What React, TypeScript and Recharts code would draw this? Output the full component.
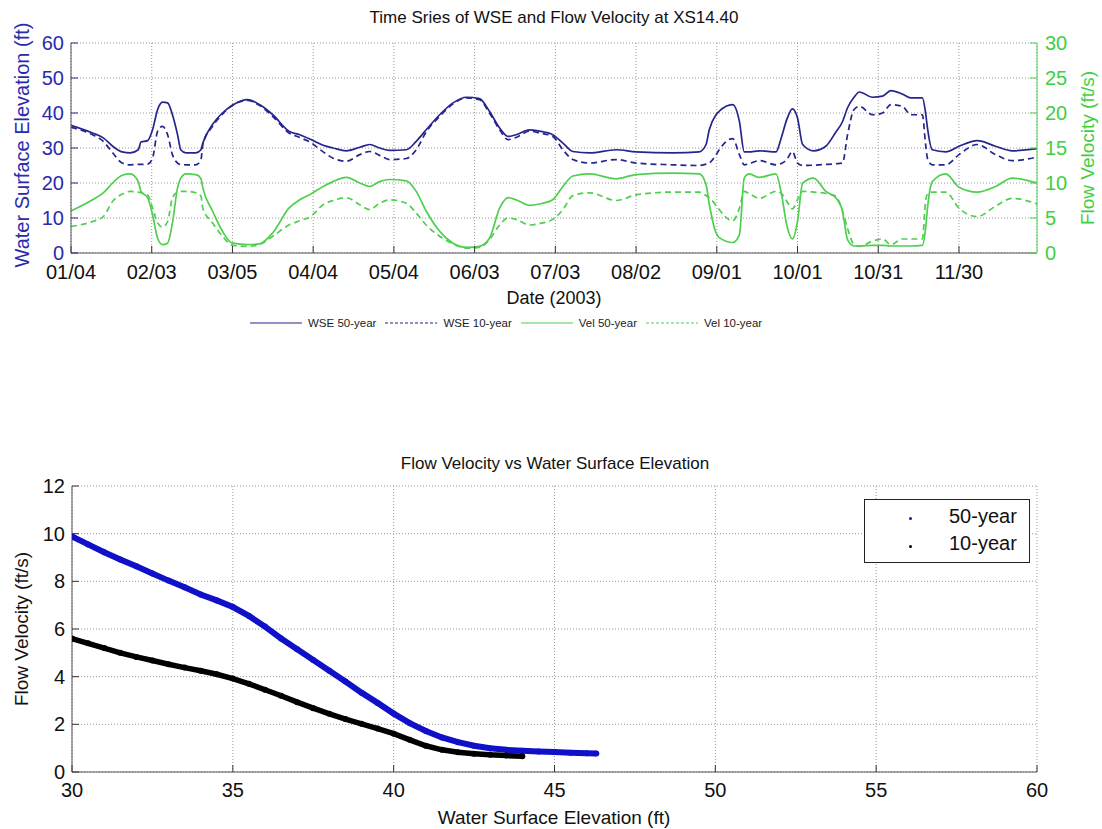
import React from 'react';
import { LineChart, Line, XAxis, YAxis, CartesianGrid, ScatterChart, Scatter } from 'recharts';

// top chart: day of year 2003 and the four series
const days = [4, 12, 16, 19.5, 23, 26, 29, 30, 32.5, 34.3, 36.2, 38, 39.9, 41.7, 43.6, 44.8, 46.7, 50.4, 52.3, 53, 56.6, 60.3, 64, 69.6, 74, 79, 85, 89, 93, 97.7, 101.4, 106.3, 111.3, 115, 118.7, 122.4, 128.6, 132.3, 136, 141, 146, 151, 155.8, 159.5, 163.3, 166.4, 169.4, 174.4, 178.1, 183, 186.8, 190.5, 196.7, 206.6, 214, 227.6, 237.5, 240, 241.2, 243.7, 244.9, 249.9, 252.4, 254.2, 256, 259.8, 266, 268, 270, 272.1, 274, 275.9, 280, 284.5, 288.2, 290.7, 292.6, 295, 297, 301.9, 305.6, 308.7, 313, 316.1, 320.4, 321.6, 322.3, 324.1, 329.1, 334, 340.8, 347.6, 353.8, 363];
const wse50 = [36.5, 34.3, 32.9, 30.5, 28.9, 28.6, 29.5, 31.7, 32.1, 35.2, 41.0, 43.1, 42.9, 39.5, 33.8, 29.5, 28.6, 28.6, 29.5, 31.4, 36.7, 40.0, 42.2, 43.8, 42.4, 39.5, 34.8, 33.8, 32.5, 30.8, 30.0, 29.2, 30.2, 31.0, 30.0, 29.3, 29.5, 31.9, 35.2, 39.5, 42.9, 44.5, 44.1, 40.5, 35.7, 33.3, 33.8, 35.2, 34.8, 33.8, 31.4, 29.0, 28.6, 29.5, 28.9, 28.6, 28.9, 31.0, 35.2, 39.5, 40.5, 42.4, 37.6, 28.9, 28.9, 29.2, 28.9, 33.0, 38.1, 41.2, 38.6, 31.0, 29.2, 30.5, 34.5, 37.5, 41.5, 44.5, 46.0, 44.5, 44.8, 46.4, 45.4, 44.3, 44.3, 40.0, 35.7, 29.5, 28.9, 30.5, 32.1, 30.5, 29.2, 29.8];
const wse10 = [35.9, 33.8, 31.9, 28.6, 25.7, 25.2, 25.3, 25.3, 25.4, 27.1, 34.8, 36.2, 33.8, 28.1, 25.7, 25.3, 25.2, 25.2, 26.7, 31.0, 36.2, 39.7, 42.2, 43.6, 42.2, 39.0, 34.3, 33.0, 31.6, 28.9, 27.1, 26.2, 28.1, 29.0, 27.9, 26.7, 27.0, 29.5, 34.6, 39.0, 42.6, 44.3, 43.8, 40.0, 35.2, 32.4, 33.0, 34.8, 34.3, 33.3, 29.5, 26.7, 25.7, 26.7, 25.7, 25.2, 25.0, 25.4, 25.7, 28.0, 29.5, 32.7, 28.1, 25.2, 25.5, 26.4, 25.2, 25.6, 26.7, 29.0, 25.7, 25.0, 25.1, 25.3, 25.5, 25.7, 33.8, 41.0, 41.9, 39.5, 40.0, 42.4, 41.9, 39.5, 39.5, 31.0, 27.0, 25.2, 25.2, 28.1, 31.0, 28.1, 26.4, 27.4];
const vel50 = [6.0, 7.6, 8.6, 10.0, 11.1, 11.3, 10.2, 8.8, 7.9, 5.5, 2.1, 1.2, 1.4, 4.3, 9.3, 10.7, 11.3, 11.2, 10.6, 9.3, 6.0, 3.1, 1.4, 1.2, 1.3, 2.9, 6.4, 7.6, 8.4, 9.5, 10.2, 10.8, 10.0, 9.5, 10.2, 10.5, 10.3, 8.8, 6.0, 3.1, 1.4, 0.8, 0.95, 2.1, 6.4, 7.9, 7.6, 6.8, 7.0, 7.6, 9.5, 11.0, 11.3, 10.6, 11.2, 11.4, 11.3, 9.8, 7.0, 2.9, 2.2, 1.5, 2.6, 10.7, 11.3, 10.8, 11.3, 8.5, 4.0, 2.0, 4.5, 10.0, 10.7, 8.8, 7.9, 6.0, 1.9, 1.0, 1.0, 1.1, 1.1, 1.0, 1.0, 1.0, 1.1, 3.5, 6.4, 10.2, 11.3, 9.4, 8.7, 9.5, 10.7, 10.0];
const vel10 = [3.8, 4.5, 5.2, 7.4, 8.4, 8.8, 8.7, 8.6, 8.3, 6.4, 4.3, 3.7, 4.5, 7.9, 8.7, 8.8, 8.8, 8.6, 8.1, 6.4, 4.3, 2.4, 1.1, 0.95, 1.2, 2.4, 4.0, 4.6, 5.2, 6.9, 7.5, 7.9, 6.9, 6.2, 7.1, 7.6, 7.1, 5.7, 4.0, 2.4, 1.3, 0.7, 0.8, 1.9, 4.0, 5.0, 4.8, 4.0, 4.2, 4.8, 6.2, 8.2, 8.6, 7.5, 8.3, 8.7, 8.7, 8.2, 7.9, 6.8, 6.2, 4.6, 6.4, 8.8, 8.5, 7.8, 8.8, 8.5, 7.4, 6.3, 7.6, 8.8, 8.7, 8.5, 8.1, 6.0, 3.5, 1.2, 0.95, 1.7, 2.0, 1.2, 2.0, 2.0, 2.0, 7.4, 8.4, 8.7, 8.7, 6.4, 5.2, 6.7, 7.8, 7.0];

const dateTicks = [4, 34, 64, 94, 124, 154, 184, 214, 244, 274, 304, 334];
const dateLabels = ['01/04', '02/03', '03/05', '04/04', '05/04', '06/03', '07/03', '08/02', '09/01', '10/01', '10/31', '11/30'];
const wseTicks = [0, 10, 20, 30, 40, 50, 60];
const velTicks = [0, 5, 10, 15, 20, 25, 30];

// bottom chart: velocity vs elevation
const elev50 = [30.0, 30.5, 31.0, 31.5, 32.0, 32.5, 33.0, 33.5, 34.0, 34.5, 35.0, 35.5, 36.0, 36.5, 37.0, 37.5, 38.0, 38.5, 39.0, 39.5, 40.0, 40.5, 41.0, 41.5, 42.0, 42.5, 43.0, 43.5, 44.0, 44.5, 45.0, 45.5, 46.0, 46.3];
const velo50 = [9.88, 9.55, 9.22, 8.92, 8.63, 8.33, 8.03, 7.75, 7.45, 7.2, 6.92, 6.55, 6.1, 5.6, 5.15, 4.7, 4.25, 3.8, 3.33, 2.9, 2.45, 2.05, 1.72, 1.45, 1.25, 1.1, 1.0, 0.93, 0.89, 0.86, 0.84, 0.81, 0.79, 0.78];
const elev10 = [30.0, 30.5, 31.0, 31.5, 32.0, 32.5, 33.0, 33.5, 34.0, 34.5, 35.0, 35.5, 36.0, 36.5, 37.0, 37.5, 38.0, 38.5, 39.0, 39.5, 40.0, 40.5, 41.0, 41.5, 42.0, 42.5, 43.0, 43.5, 44.0];
const velo10 = [5.6, 5.4, 5.2, 5.0, 4.83, 4.68, 4.52, 4.38, 4.25, 4.1, 3.92, 3.7, 3.45, 3.2, 2.93, 2.68, 2.44, 2.22, 2.02, 1.82, 1.61, 1.35, 1.1, 0.93, 0.83, 0.77, 0.72, 0.69, 0.66];
const elevTicks = [30, 35, 40, 45, 50, 55, 60];
const veloTicks = [0, 2, 4, 6, 8, 10, 12];

const NAVY = '#25258e';
const NAVY_TXT = '#2a2aae';
const GREEN = '#4fcf4f';
const GREEN_TXT = '#3fcf3f';
const FONT = '"Liberation Sans", Arial, sans-serif';

const series = days.map((d, i) => ({ day: d, w50: wse50[i], w10: wse10[i], v50: vel50[i], v10: vel10[i] }));
const pts50 = elev50.map((x, i) => ({ x, y: velo50[i] }));
const pts10 = elev10.map((x, i) => ({ x, y: velo10[i] }));

const fmtDate = (v: number) => {
  const i = dateTicks.indexOf(v);
  return i >= 0 ? dateLabels[i] : '';
};

const abs = (left: number, top: number, extra: React.CSSProperties = {}): React.CSSProperties => ({
  position: 'absolute',
  left,
  top,
  transform: 'translate(-50%, -50%)',
  whiteSpace: 'nowrap',
  fontFamily: FONT,
  ...extra,
});

const legendItems = [
  { label: 'WSE 50-year', color: NAVY, dash: undefined as string | undefined },
  { label: 'WSE 10-year', color: NAVY, dash: '3 2' },
  { label: 'Vel 50-year', color: GREEN, dash: undefined },
  { label: 'Vel 10-year', color: GREEN, dash: '3 2' },
];

const dot = (color: string) => (props: any) => <circle cx={props.cx} cy={props.cy} r={3} fill={color} />;

export default function App() {
  return (
    <div style={{ position: 'absolute', left: 0, top: 0, width: 1102, height: 829, background: '#fff', overflow: 'hidden' }}>
      <div style={{ position: 'absolute', left: 0, top: 0 }}>
        <LineChart width={1102} height={340} data={series} margin={{ top: 43, right: 25, bottom: 57, left: 31 }}>
          <CartesianGrid xAxisId="b" yAxisId="l" stroke="#9a9a9a" strokeDasharray="1 2" />
          <XAxis xAxisId="b" dataKey="day" type="number" domain={[4, 363]} ticks={dateTicks} tickFormatter={fmtDate}
            height={30} tickSize={-7} tickMargin={19} interval={0} allowDataOverflow
            axisLine={{ stroke: '#555' }} tickLine={{ stroke: '#333' }}
            tick={{ fill: '#111', fontSize: 20, fontFamily: FONT }} />
          <XAxis xAxisId="t" orientation="top" dataKey="day" type="number" domain={[4, 363]} ticks={dateTicks}
            height={0} tickSize={-7} tick={false} allowDataOverflow axisLine={{ stroke: '#555' }} tickLine={{ stroke: '#333' }} />
          <YAxis yAxisId="l" domain={[0, 60]} ticks={wseTicks} width={40} tickSize={-7} tickMargin={14} interval={0}
            axisLine={{ stroke: '#555' }} tickLine={{ stroke: NAVY }}
            tick={{ fill: NAVY_TXT, fontSize: 20, fontFamily: FONT }} />
          <YAxis yAxisId="r" orientation="right" domain={[0, 30]} ticks={velTicks} width={40} tickSize={-7} tickMargin={15} interval={0}
            axisLine={{ stroke: GREEN }} tickLine={{ stroke: GREEN }}
            tick={{ fill: GREEN_TXT, fontSize: 20, fontFamily: FONT }} />
          <Line xAxisId="b" yAxisId="l" dataKey="w50" type="monotone" stroke={NAVY} strokeWidth={1.7} dot={false} isAnimationActive={false} />
          <Line xAxisId="b" yAxisId="l" dataKey="w10" type="monotone" stroke={NAVY} strokeWidth={1.7} strokeDasharray="6 4" dot={false} isAnimationActive={false} />
          <Line xAxisId="b" yAxisId="r" dataKey="v50" type="monotone" stroke={GREEN} strokeWidth={1.7} dot={false} isAnimationActive={false} />
          <Line xAxisId="b" yAxisId="r" dataKey="v10" type="monotone" stroke={GREEN} strokeWidth={1.7} strokeDasharray="6 4" dot={false} isAnimationActive={false} />
        </LineChart>
      </div>

      <div style={abs(554, 18, { fontSize: 17, color: '#111' })}>Time Sries of WSE and Flow Velocity at XS14.40</div>
      <div style={abs(554, 298, { fontSize: 18, color: '#111' })}>Date (2003)</div>
      <div style={abs(22, 145, { fontSize: 20, color: NAVY_TXT, transform: 'translate(-50%, -50%) rotate(-90deg)' })}>Water Surface Elevation (ft)</div>
      <div style={abs(1088, 148, { fontSize: 19, color: GREEN_TXT, transform: 'translate(-50%, -50%) rotate(-90deg)' })}>Flow Velocity (ft/s)</div>

      <div style={{ position: 'absolute', left: 250, top: 314, display: 'flex', alignItems: 'center', fontFamily: FONT, fontSize: 11.5, color: '#222' }}>
        {legendItems.map((it) => (
          <div key={it.label} style={{ display: 'flex', alignItems: 'center', marginRight: 9 }}>
            <svg width={52} height={18}>
              <line x1={0} y1={9} x2={52} y2={9} stroke={it.color} strokeWidth={1.2} strokeDasharray={it.dash} />
            </svg>
            <span style={{ marginLeft: 6 }}>{it.label}</span>
          </div>
        ))}
      </div>

      <div style={{ position: 'absolute', left: 0, top: 440 }}>
        <ScatterChart width={1102} height={389} margin={{ top: 46, right: 65, bottom: 27, left: 32 }}>
          <CartesianGrid xAxisId="b" yAxisId="l" stroke="#9a9a9a" strokeDasharray="1 2" />
          <XAxis xAxisId="b" dataKey="x" type="number" domain={[30, 60]} ticks={elevTicks} height={30} tickSize={-7} tickMargin={18}
            interval={0} allowDataOverflow axisLine={{ stroke: '#555' }} tickLine={{ stroke: '#333' }}
            tick={{ fill: '#111', fontSize: 20, fontFamily: FONT }} />
          <XAxis xAxisId="t" orientation="top" dataKey="x" type="number" domain={[30, 60]} ticks={elevTicks} height={0} tickSize={-7}
            tick={false} allowDataOverflow axisLine={{ stroke: '#555' }} tickLine={{ stroke: '#333' }} />
          <YAxis yAxisId="l" dataKey="y" type="number" domain={[0, 12]} ticks={veloTicks} width={40} tickSize={-7} tickMargin={14}
            interval={0} axisLine={{ stroke: '#555' }} tickLine={{ stroke: '#333' }}
            tick={{ fill: '#111', fontSize: 20, fontFamily: FONT }} />
          <YAxis yAxisId="r" orientation="right" dataKey="y" type="number" domain={[0, 12]} ticks={veloTicks} width={0} tickSize={-7}
            tick={false} axisLine={{ stroke: '#555' }} tickLine={{ stroke: '#333' }} />
          <Scatter xAxisId="b" yAxisId="l" data={pts50} fill="#1010c8" line={{ stroke: '#1010c8', strokeWidth: 6 }} lineType="joint"
            shape={dot('#1010c8')} isAnimationActive={false} />
          <Scatter xAxisId="b" yAxisId="l" data={pts10} fill="#000" line={{ stroke: '#000', strokeWidth: 5.5 }} lineType="joint"
            shape={dot('#000')} isAnimationActive={false} />
        </ScatterChart>
      </div>

      <div style={abs(555, 464, { fontSize: 17, color: '#111' })}>Flow Velocity vs Water Surface Elevation</div>
      <div style={abs(554, 818, { fontSize: 19, color: '#111' })}>Water Surface Elevation (ft)</div>
      <div style={abs(22, 629, { fontSize: 19, color: '#111', transform: 'translate(-50%, -50%) rotate(-90deg)' })}>Flow Velocity (ft/s)</div>

      <div style={{ position: 'absolute', left: 864, top: 499, width: 164, height: 62, border: '1px solid #222', background: '#fff', fontFamily: FONT, fontSize: 20, color: '#111' }}>
        <div style={{ position: 'absolute', left: 44, top: 17, width: 3, height: 3, borderRadius: 2, background: '#1010c8' }} />
        <div style={{ position: 'absolute', left: 84, top: 5 }}>50-year</div>
        <div style={{ position: 'absolute', left: 44, top: 45, width: 3, height: 3, borderRadius: 2, background: '#000' }} />
        <div style={{ position: 'absolute', left: 84, top: 32 }}>10-year</div>
      </div>
    </div>
  );
}
